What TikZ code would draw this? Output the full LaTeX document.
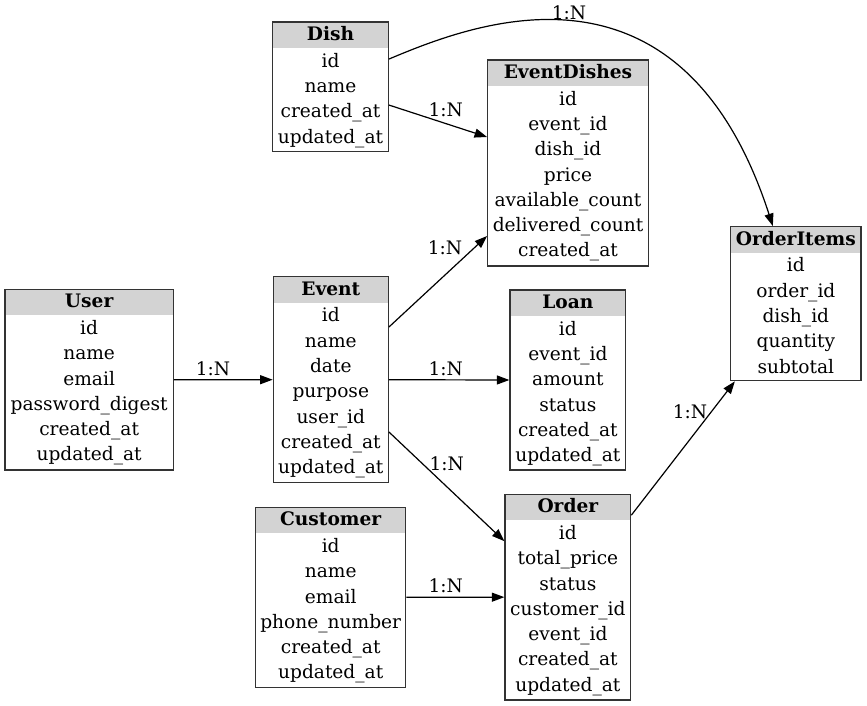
\documentclass[tikz,border=0pt]{standalone}
\usepackage{fontspec}
\setmainfont{DejaVu Serif}
\usetikzlibrary{arrows.meta,fit}
\definecolor{hdrgray}{HTML}{D3D3D3}
\tikzset{
  tblbox/.style={draw=black!80,line width=1.3pt,inner sep=0pt},
  hdrfill/.style={fill=hdrgray},
  ttl/.style={anchor=base,inner sep=0pt,font=\fontsize{18.6}{21}\selectfont\bfseries},
  fld/.style={anchor=base,inner sep=0pt,font=\fontsize{18.6}{21}\selectfont},
  lbl/.style={inner sep=0pt,font=\fontsize{18.6}{21}\selectfont},
  rel/.style={line width=1.2pt,-{Triangle[length=12.5pt,width=9pt]}},
}
\newcommand\entity[7]{%
  \fill[hdrfill] (#2,-#3) rectangle (#4,-#3-26);
  \node[tblbox,fit={(#2,-#3) (#4,-#5)}] (#1) {};
  \node[ttl] (#1-t) at ({(#2+#4)/2},{-#3-13-5.5}) {#6};
  \foreach \r [count=\i] in {#7} {\node[fld] (#1-\i) at ({(#2+#4)/2},{-#3-26-25.3*(\i-0.5)-6.5}) {\r};}
}
\begin{document}
\begin{tikzpicture}[x=1pt,y=1pt]
\useasboundingbox (0,0) rectangle (867,-705);
\entity{dish}{272.7}{22}{388.3}{151.3}{Dish}{id,name,created\_at,updated\_at}
\entity{eventdishes}{487.7}{60}{648.3}{266}{EventDishes}{id,event\_id,dish\_id,price,available\_count,delivered\_count,created\_at}
\entity{orderitems}{730.7}{226.7}{861}{380.7}{OrderItems}{id,order\_id,dish\_id,quantity,subtotal}
\entity{user}{5}{289.3}{173.3}{470}{User}{id,name,email,password\_digest,created\_at,updated\_at}
\entity{event}{273.3}{276.7}{388.3}{482.7}{Event}{id,name,date,purpose,user\_id,created\_at,updated\_at}
\entity{loan}{510}{290}{625.7}{470}{Loan}{id,event\_id,amount,status,created\_at,updated\_at}
\entity{customer}{255.7}{507.3}{405.7}{687.3}{Customer}{id,name,email,phone\_number,created\_at,updated\_at}
\entity{order}{505}{494.3}{630.7}{700}{Order}{id,total\_price,status,customer\_id,event\_id,created\_at,updated\_at}

\draw[rel] (user.east) -- (event.west);
\draw[rel] (event.east) -- (loan.west);
\draw[rel] (customer.east) -- (order.west);
\draw[rel] ([yshift=52.7pt]event.east) -- ([yshift=-73pt]eventdishes.west);
\draw[rel] ([yshift=-52.3pt]event.east) -- ([yshift=56pt]order.west);
\draw[rel] ([yshift=-18.4pt]dish.east) -- ([yshift=26pt]eventdishes.west);
\draw[rel] ([yshift=82pt]order.east) -- ([xshift=-61pt]orderitems.south);
\draw[rel] ([yshift=27.6pt]dish.east) .. controls (470,-25) and (680,60) .. ([xshift=-23pt]orderitems.north);

\node[lbl] (l1) at (213,-368.5) {1:N};
\node[lbl] (l2) at (445.7,-368.5) {1:N};
\node[lbl] (l3) at (446.7,-464) {1:N};
\node[lbl] (l4) at (445,-247.3) {1:N};
\node[lbl] (l5) at (445.7,-109.3) {1:N};
\node[lbl] (l6) at (569,-13) {1:N};
\node[lbl] (l7) at (445.7,-586) {1:N};
\node[lbl] (l8) at (690,-412) {1:N};
\end{tikzpicture}
\end{document}
